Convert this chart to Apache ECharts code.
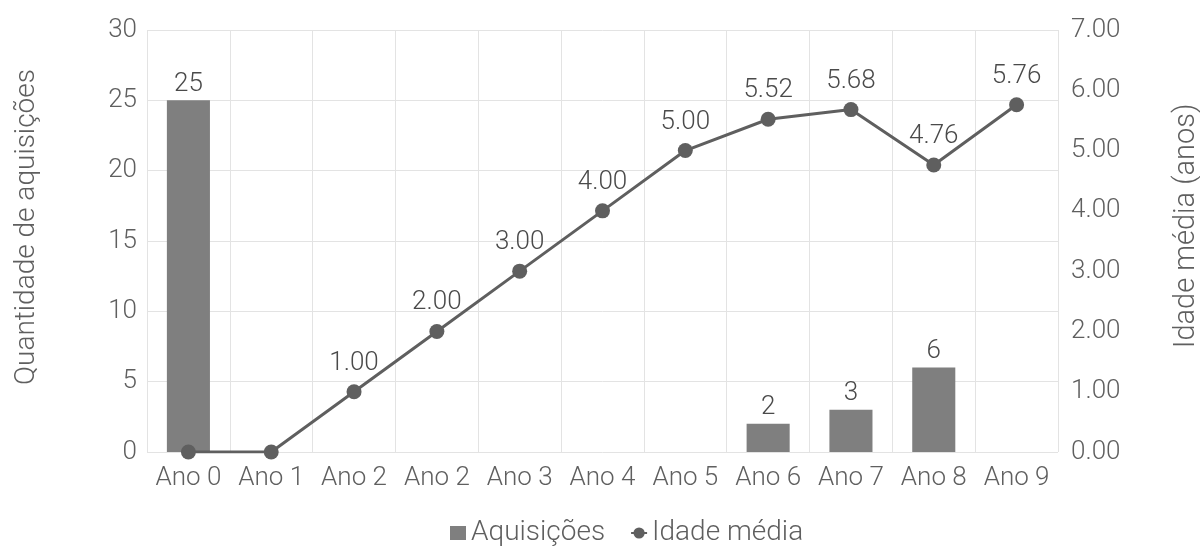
<!DOCTYPE html>
<html>
<head>
<meta charset="utf-8">
<script src="https://cdn.jsdelivr.net/npm/echarts@6/dist/echarts.min.js"></script>
<style>
  html, body { margin: 0; padding: 0; background: #fff; }
  #chart { width: 1200px; height: 549px; }
</style>
</head>
<body>
<div id="chart"></div>
<script>
// Categorias do eixo x (rótulos tal como aparecem)
const categories = ['Ano 0', 'Ano 1', 'Ano 2', 'Ano 2', 'Ano 3', 'Ano 4', 'Ano 5', 'Ano 6', 'Ano 7', 'Ano 8', 'Ano 9'];
// Quantidade de aquisições por ano
const aquisicoes = [25, 0, 0, 0, 0, 0, 0, 2, 3, 6, 0];
// Idade média da frota (anos)
const idadeMedia = [0, 0, 1.00, 2.00, 3.00, 4.00, 5.00, 5.52, 5.68, 4.76, 5.76];

const font = 'Roboto, "Liberation Sans", Arial, sans-serif';
const textColor = '#5f5f5f';
const fs = 26;

const chart = echarts.init(document.getElementById('chart'), null, { renderer: 'canvas' });
chart.setOption({
  animation: false,
  textStyle: { fontFamily: font, fontWeight: 300 },
  grid: { left: 147, right: 142, top: 30, bottom: 97, outerBoundsMode: 'none', containLabel: false },
  legend: {
    left: 450,
    top: 519,
    padding: 0,
    itemGap: 25,
    itemWidth: 16,
    itemHeight: 14,
    textStyle: { fontFamily: font, fontSize: 28, fontWeight: 300, color: textColor },
    data: [
      { name: 'Aquisições', icon: 'rect', itemStyle: { color: '#7f7f7f' } },
      { name: 'Idade média' }
    ]
  },
  xAxis: {
    type: 'category',
    data: categories,
    boundaryGap: true,
    axisLine: { show: false },
    axisTick: { show: false },
    axisLabel: { fontFamily: font, fontSize: fs, fontWeight: 300, color: textColor, margin: 13, interval: 0 },
    splitLine: { show: true, interval: 0, lineStyle: { color: '#e3e3e3', width: 1 } }
  },
  yAxis: [
    {
      type: 'value',
      min: 0, max: 30, interval: 5,
      name: 'Quantidade de aquisições',
      nameLocation: 'middle',
      nameGap: 106,
      nameRotate: 90,
      nameTextStyle: { fontFamily: font, fontSize: 28, fontWeight: 300, color: textColor, padding: [0, 0, 0, 28] },
      axisLine: { show: false },
      axisTick: { show: false },
      axisLabel: { fontFamily: font, fontSize: fs, fontWeight: 300, color: textColor, margin: 10 },
      splitLine: { lineStyle: { color: '#e3e3e3', width: 1 } }
    },
    {
      type: 'value',
      min: 0, max: 7, interval: 1,
      name: 'Idade média (anos)',
      nameLocation: 'middle',
      nameGap: 114,
      nameRotate: 90,
      nameTextStyle: { fontFamily: font, fontSize: 29, fontWeight: 300, color: textColor, padding: [0, 0, 0, 30] },
      axisLine: { show: false },
      axisTick: { show: false },
      axisLabel: {
        fontFamily: font, fontSize: fs, fontWeight: 300, color: textColor, margin: 13,
        formatter: v => v.toFixed(2)
      },
      splitLine: { show: false }
    }
  ],
  series: [
    {
      name: 'Aquisições',
      type: 'bar',
      yAxisIndex: 0,
      data: aquisicoes,
      barWidth: '52%',
      itemStyle: { color: '#7f7f7f' },
      label: {
        show: true,
        position: 'top',
        distance: 3,
        fontFamily: font, fontSize: fs, fontWeight: 300, color: '#4a4a4a',
        formatter: p => (p.value ? String(p.value) : '')
      },
      z: 2
    },
    {
      name: 'Idade média',
      type: 'line',
      yAxisIndex: 1,
      data: idadeMedia,
      symbol: 'circle',
      symbolSize: 15,
      lineStyle: { color: '#5f5f5f', width: 3 },
      itemStyle: { color: '#5f5f5f' },
      label: {
        show: true,
        position: 'top',
        distance: 8,
        fontFamily: font, fontSize: fs, fontWeight: 300, color: '#4a4a4a',
        formatter: p => (p.value ? p.value.toFixed(2) : '')
      },
      z: 3
    }
  ]
});
</script>
</body>
</html>
